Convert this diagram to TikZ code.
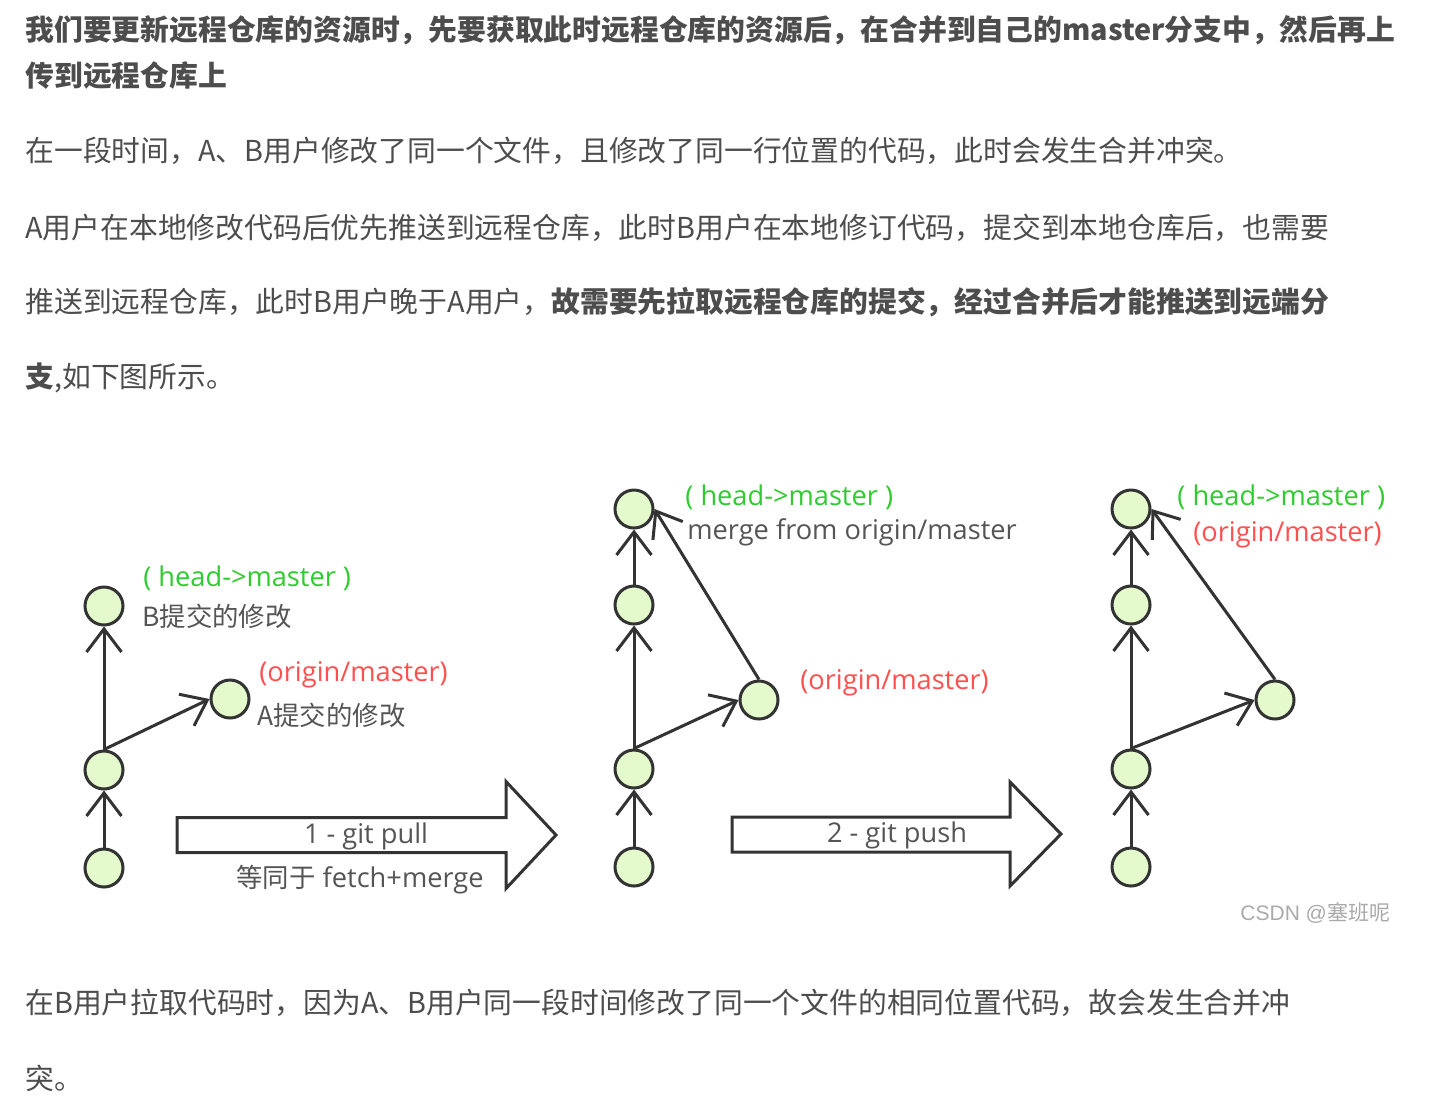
\documentclass[tikz,border=0pt]{standalone}
\usepackage{fontspec}
\usepackage{tikz}
\usetikzlibrary{arrows.meta}
\setmainfont{Open Sans}
\newfontfamily\cjk{Noto Sans CJK SC}
\newfontfamily\tagfont{Open Sans}
\newfontfamily\markfont{Liberation Sans}

\begin{document}
\begin{tikzpicture}[x=0.5pt,y=-0.5pt,
  commit/.style={circle,draw=lineColor,fill=commitColor,line width=1.5pt,minimum size=19pt,inner sep=0pt},
  link/.style={line width=1.5pt,color=lineColor,-{Straight Barb[length=11.5pt,width=17.5pt]}},
  bigarrow/.style={line width=1.5pt,draw=lineColor,fill=white,line join=miter},
  para/.style={anchor=west,inner sep=0pt,text=textColor,font=\cjk\fontsize{14.4pt}{17pt}\selectfont},
  tag/.style={inner sep=0pt,font=\tagfont\fontsize{13.6pt}{16pt}\selectfont},
  note/.style={inner sep=0pt,text=noteColor,font=\cjk\fontsize{13.2pt}{16pt}\selectfont}]
\definecolor{textColor}{RGB}{77,77,77}
\definecolor{lineColor}{RGB}{51,51,51}
\definecolor{commitColor}{RGB}{228,250,204}
\definecolor{headColor}{RGB}{46,204,46}
\definecolor{originColor}{RGB}{255,80,80}
\definecolor{noteColor}{RGB}{85,85,85}
\definecolor{markColor}{RGB}{170,170,170}
\fill[white] (0,0) rectangle (1438,1109);
\useasboundingbox (0,0) rectangle (1438,1109);
% text above the figure
\node[para] (l1) at (25,30) {\bfseries 我们要更新远程仓库的资源时，先要获取此时远程仓库的资源后，在合并到自己的master分支中，然后再上};
\node[para] (l2) at (25,76) {\bfseries 传到远程仓库上};
\node[para] (l3) at (25,151) {在一段时间，A、B用户修改了同一个文件，且修改了同一行位置的代码，此时会发生合并冲突。};
\node[para] (l4) at (25,228) {A用户在本地修改代码后优先推送到远程仓库，此时B用户在本地修订代码，提交到本地仓库后，也需要};
\node[para] (l5) at (25,302) {推送到远程仓库，此时B用户晚于A用户，{\bfseries 故需要先拉取远程仓库的提交，经过合并后才能推送到远端分}};
\node[para] (l6) at (25,378) {{\bfseries 支},如下图所示。};
% panel 1: before pull
\node[commit] (a1) at (104,868) {};
\node[commit] (a2) at (104,770) {};
\node[commit] (a3) at (104,606) {};
\node[commit] (as) at (230,699) {};
\foreach \i/\j in {1/2,2/3}
  \draw[link] (a\i.north) -- (a\j.south);
\draw[link] (a2.north) -- (as.west);
\node[tag,anchor=west,text=headColor] (ahead) at (143,578) {( head->master )};
\node[note,anchor=west] (anote) at (142,616) {B提交的修改};
\node[tag,anchor=west,text=originColor] (aorigin) at (259,675) {(origin/master)};
\node[note,anchor=west] (anoteb) at (257,715) {A提交的修改};
\draw[bigarrow] (177,817.5) -- (506,817.5) -- (506,781.5) -- (556,835) -- (506,888.5) -- (506,852.5) -- (177,852.5) -- cycle;
\node[tag,text=noteColor] (pull) at (366,836) {1 - git pull};
\node[tag,text=noteColor] (pullnote) at (360,880) {{\cjk\fontsize{13.2pt}{16pt}\selectfont 等同于} fetch+merge};
% panel 2: after pull
\node[commit] (b1) at (634,867) {};
\node[commit] (b2) at (634,769) {};
\node[commit] (b3) at (634,605) {};
\node[commit] (b4) at (634,509) {};
\node[commit] (bs) at (759,700) {};
\foreach \i/\j in {1/2,2/3,3/4}
  \draw[link] (b\i.north) -- (b\j.south);
\draw[link] (b2.north) -- (bs.west);
\draw[link] (bs.north) -- (b4.east);
\node[tag,anchor=west,text=headColor] (bhead) at (685,497) {( head->master )};
\node[tag,anchor=west,text=noteColor] (bmerge) at (687,532) {merge from origin/master};
\node[tag,anchor=west,text=originColor] (borigin) at (800,683) {(origin/master)};
\draw[bigarrow] (732,817) -- (1010,817) -- (1010,782) -- (1061,834) -- (1010,886) -- (1010,852) -- (732,852) -- cycle;
\node[tag,text=noteColor] (push) at (897,835) {2 - git push};
% panel 3: after push
\node[commit] (c1) at (1131,867) {};
\node[commit] (c2) at (1131,769) {};
\node[commit] (c3) at (1131,605) {};
\node[commit] (c4) at (1131,509) {};
\node[commit] (cs) at (1275,700) {};
\foreach \i/\j in {1/2,2/3,3/4}
  \draw[link] (c\i.north) -- (c\j.south);
\draw[link] (c2.north) -- (cs.west);
\draw[link] (cs.north) -- (c4.east);
\node[tag,anchor=west,text=headColor] (chead) at (1177,497) {( head->master )};
\node[tag,anchor=west,text=originColor] (corigin) at (1193,535) {(origin/master)};
\node[inner sep=0pt,anchor=west,text=markColor,font=\markfont\fontsize{10.5pt}{12pt}\selectfont] (mark) at (1240,913) {CSDN @{\cjk 塞班呢}};
% text below the figure
\node[para] (l7) at (25,1003) {在B用户拉取代码时，因为A、B用户同一段时间修改了同一个文件的相同位置代码，故会发生合并冲};
\node[para] (l8) at (25,1078) {突。};
\end{tikzpicture}
\end{document}
